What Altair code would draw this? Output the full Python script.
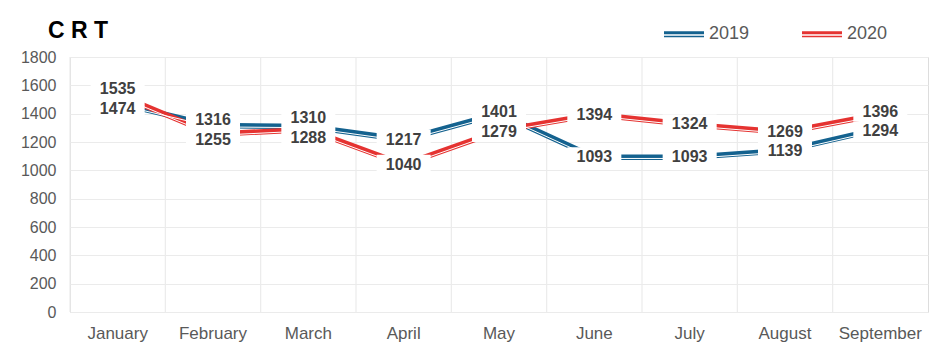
import altair as alt
import pandas as pd

months = ["January", "February", "March", "April", "May", "June", "July", "August", "September"]
v2019 = [1474, 1316, 1310, 1217, 1401, 1093, 1093, 1139, 1294]
v2020 = [1535, 1255, 1288, 1040, 1279, 1394, 1324, 1269, 1396]
series = ["2019", "2020"]
colors = ["#14628F", "#E53331"]
y_ticks = [0, 200, 400, 600, 800, 1000, 1200, 1400, 1600, 1800]

FONT = "Liberation Sans"
SEP = 140  # minimum label separation in data units

rows = []
for i, m in enumerate(months):
    a, b = v2019[i], v2020[i]
    la, lb = a, b
    if abs(a - b) < SEP:
        mid = (a + b) / 2
        if a >= b:
            la, lb = mid + SEP / 2, mid - SEP / 2
        else:
            la, lb = mid - SEP / 2, mid + SEP / 2
    rows.append(dict(month=m, year=series[0], value=a, label_y=la))
    rows.append(dict(month=m, year=series[1], value=b, label_y=lb))
df = pd.DataFrame(rows)
df_months = pd.DataFrame({"month": months})

xscale = alt.Scale(type="band", domain=months, paddingInner=0, paddingOuter=0)
yscale = alt.Scale(domain=[0, 1800], nice=False)

x_axis = alt.Axis(title=None, labelAngle=0, ticks=False, domain=False, grid=False,
                  labelFontSize=17, labelColor="#595959", labelPadding=13, labelFont=FONT)
y_axis = alt.Axis(title=None, values=y_ticks, ticks=False, domain=False,
                  gridColor="#ebebeb", gridWidth=1.2, labelFontSize=16,
                  labelColor="#595959", labelPadding=14, labelFont=FONT, format="d")

x_c = alt.X("month:N", sort=months, scale=xscale, bandPosition=0.5, axis=x_axis)
x_edge = alt.X("month:N", sort=months, scale=xscale, bandPosition=0, axis=x_axis)
y_val = alt.Y("value:Q", scale=yscale, axis=y_axis)
y_label = alt.Y("label_y:Q", scale=yscale, axis=y_axis)

legend_path = "M-1,-0.1L1,-0.1M-1,-0.03L1,-0.03M-1,0.12L1,0.12"
color_enc = alt.Color("year:N", scale=alt.Scale(domain=series, range=colors),
                      legend=alt.Legend(orient="none", legendX=593, legendY=-44,
                                        direction="horizontal", title=None,
                                        symbolType=legend_path, symbolSize=1600,
                                        symbolStrokeWidth=1.5, labelFontSize=18,
                                        labelColor="#595959", labelFont=FONT,
                                        columnPadding=49, labelOffset=4, padding=0))

base = alt.Chart(df)

vgrid = alt.Chart(df_months).mark_rule(color="#ebebeb", strokeWidth=1.2).encode(x=x_edge)
lines = base.mark_line(strokeWidth=5.5).encode(x=x_c, y=y_val, color=color_enc)
inner = base.mark_line(strokeWidth=1, color="white", yOffset=1.3).encode(
    x=x_c, y=y_val, detail="year:N")
box_path = "M-2.7,-1L2.7,-1L2.7,1L-2.7,1Z"
boxes = base.mark_point(shape=box_path, size=400, filled=True, fill="white",
                        opacity=1, strokeWidth=0).encode(x=x_c, y=y_label)
texts = base.mark_text(font=FONT, fontSize=16, fontWeight="bold", color="#404040",
                       baseline="middle").encode(x=x_c, y=y_label, text="value:Q")

chart = alt.layer(vgrid, lines, inner, boxes, texts).properties(
    width=858, height=255,
    autosize=alt.AutoSizeParams(type="none"),
    padding={"left": 70, "top": 57, "right": 17, "bottom": 39},
    title=alt.TitleParams("C R T", anchor="start", frame="group", dx=-22, fontSize=23,
                          fontWeight="bold", font=FONT, color="#000000", offset=-48,
                          baseline="alphabetic"),
).configure_view(stroke="#e3e3e3", strokeWidth=1.2).configure(background="white")

chart.save("out.html", embed_options={"renderer": "svg", "actions": False})
